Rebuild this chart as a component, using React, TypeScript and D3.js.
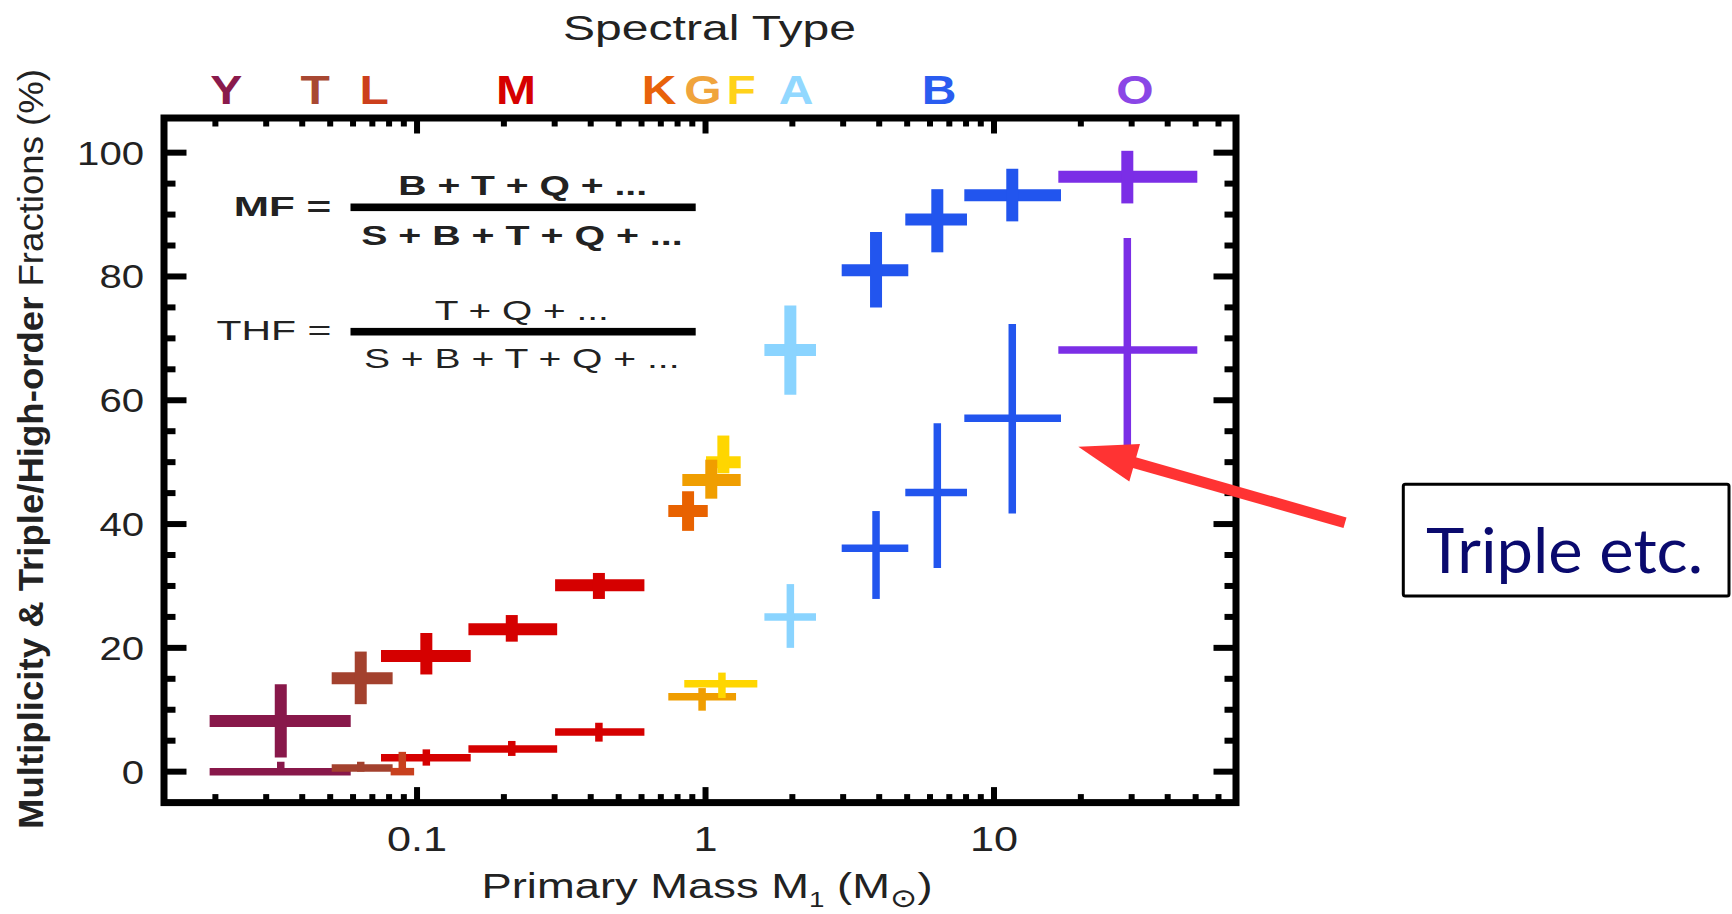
import React from 'react';
import * as d3 from 'd3';

const W = 1732;
const H = 914;

// Spectral type labels along the top
const SPECTRAL_LETTERS = ['Y', 'T', 'L', 'M', 'K', 'G', 'F', 'A', 'B', 'O'];
const SPECTRAL_LETTER_MASS = [0.0218, 0.0443, 0.071, 0.2204, 0.69, 0.98, 1.328, 2.06, 6.45, 30.8];
const LETTER_COLORS: Record<string, string> = {
  Y: '#8a1a4c', T: '#a84832', L: '#cc3f1c', M: '#d60000', K: '#e8620a',
  G: '#f0a43c', F: '#ffd21a', A: '#92d8ff', B: '#2a5cf0', O: '#8a46e6',
};
const POINT_COLORS: Record<string, string> = {
  Y: '#88184a', T: '#a3412e', L: '#c8401e', M: '#d50000', K: '#e86200',
  G: '#f09e00', F: '#ffd600', A: '#8ad4ff', B: '#2255ee', O: '#7b2ee6',
};

// Multiplicity fraction (MF)
const MF_TYPE = ['Y', 'T', 'M', 'M', 'M', 'K', 'F', 'G', 'A', 'B', 'B', 'B', 'O'];
const MF_MASS = [0.0337, 0.0638, 0.1077, 0.213, 0.427, 0.87, 1.153, 1.047, 1.968, 3.9, 6.36, 11.57, 28.98];
const MF_MASS_LO = [0.0191, 0.0506, 0.075, 0.1507, 0.301, 0.743, 1.004, 0.831, 1.6, 2.965, 4.926, 7.89, 16.71];
const MF_MASS_HI = [0.0589, 0.0823, 0.1535, 0.306, 0.614, 1.018, 1.324, 1.324, 2.415, 5.045, 8.06, 17.07, 50.67];
const MF_VALUE = [8.2, 15.1, 18.7, 23.0, 30.1, 42.1, 50.0, 47.1, 68.1, 81.0, 89.2, 93.1, 96.1];
const MF_LO = [2.3, 10.9, 15.7, 21.0, 27.9, 38.9, 48.2, 44.1, 60.9, 75.0, 83.9, 88.9, 91.8];
const MF_HI = [14.1, 19.4, 22.4, 25.3, 32.1, 45.3, 54.3, 50.4, 75.3, 87.2, 94.1, 97.4, 100.3];

// Triple / high-order fraction (THF)
const THF_TYPE = ['Y', 'T', 'M', 'M', 'M', 'L', 'G', 'F', 'A', 'B', 'B', 'B', 'O'];
const THF_MASS = [0.0337, 0.0638, 0.1077, 0.213, 0.427, 0.0889, 0.973, 1.14, 1.968, 3.9, 6.36, 11.57, 28.98];
const THF_MASS_LO = [0.0191, 0.0506, 0.075, 0.1507, 0.301, 0.081, 0.743, 0.844, 1.6, 2.965, 4.926, 7.89, 16.71];
const THF_MASS_HI = [0.0589, 0.0823, 0.1535, 0.306, 0.614, 0.0977, 1.276, 1.512, 2.415, 5.045, 8.06, 17.07, 50.67];
const THF_VALUE = [0, 0.6, 2.26, 3.67, 6.41, 0, 12.1, 14.2, 25.0, 36.1, 45.1, 57.1, 68.1];
const THF_LO = [0, 0, 0.97, 2.54, 4.85, 0, 9.85, 11.9, 20.0, 27.9, 32.9, 41.7, 50.0];
const THF_HI = [1.6, 1.6, 3.6, 4.96, 7.9, 3.2, 13.5, 16.0, 30.3, 42.1, 56.3, 72.3, 86.2];

const Y_TICKS = [0, 20, 40, 60, 80, 100];
const X_TICK_LABELS = ['0.1', '1', '10'];
const X_TICK_VALUES = [0.1, 1, 10];

const TEXT = '#222';
const SANS = '"Liberation Sans", Arial, Helvetica, sans-serif';

function Cross({ m, lo, hi, v, vlo, vhi, color, sw, x, y }: any) {
  return (
    <g stroke={color} strokeLinecap="butt" fill="none">
      <line x1={x(lo)} x2={x(hi)} y1={y(v)} y2={y(v)} strokeWidth={sw} />
      <line x1={x(m)} x2={x(m)} y1={y(vlo)} y2={y(vhi)} strokeWidth={sw} />
    </g>
  );
}

export default function App() {
  const x = d3.scaleLog().domain([0.01327, 69.0]).range([164, 1236]);
  const y = d3.scaleLinear().domain([-5, 105.6]).range([802.6, 118]);
  const [x0, x1] = x.range();
  const [yb, yt] = y.range();
  const fw = 7;
  const half = fw / 2;

  const xTicks = x.ticks().filter((t) => t >= 0.0133 && t <= 69);
  const isMajor = (t: number) => Math.abs(Math.log10(t) - Math.round(Math.log10(t))) < 1e-6;
  const yMinor = d3.range(0, 105, 5);

  // arrow geometry (annotation, pixel space)
  const tip = [1078.3, 446.7];
  const tail = [1345, 522.7];
  const dx = tail[0] - tip[0];
  const dy = tail[1] - tip[1];
  const len = Math.hypot(dx, dy);
  const ux = dx / len, uy = dy / len;
  const nx = -uy, ny = ux;
  const hl = 58.6, hw = 19.5;
  const bx = tip[0] + ux * hl, by = tip[1] + uy * hl;
  const head = [
    [tip[0], tip[1]],
    [bx + nx * hw, by + ny * hw],
    [bx - nx * hw, by - ny * hw],
  ];

  return (
    <svg width={W} height={H} style={{ position: 'absolute', left: 0, top: 0, background: '#fff' }}
      fontFamily={SANS}>
      <rect x={0} y={0} width={W} height={H} fill="#fff" />

      {/* Spectral type title */}
      <text x={563} y={40} fontSize={35} fill={TEXT} textLength={293} lengthAdjust="spacingAndGlyphs">
        Spectral Type
      </text>
      {SPECTRAL_LETTERS.map((s, i) => (
        <text key={s} transform={`translate(${x(SPECTRAL_LETTER_MASS[i])},104) scale(1.2,1)`}
          textAnchor="middle" fontSize={40} fontWeight="bold" fill={LETTER_COLORS[s]}>
          {s}
        </text>
      ))}

      {/* data: MF */}
      {MF_TYPE.map((t, i) => (
        <Cross key={'mf' + i} m={MF_MASS[i]} lo={MF_MASS_LO[i]} hi={MF_MASS_HI[i]}
          v={MF_VALUE[i]} vlo={MF_LO[i]} vhi={MF_HI[i]} color={POINT_COLORS[t]} sw={12} x={x} y={y} />
      ))}
      {/* data: THF */}
      {THF_TYPE.map((t, i) => (
        <Cross key={'thf' + i} m={THF_MASS[i]} lo={THF_MASS_LO[i]} hi={THF_MASS_HI[i]}
          v={THF_VALUE[i]} vlo={THF_LO[i]} vhi={THF_HI[i]} color={POINT_COLORS[t]} sw={7.5} x={x} y={y} />
      ))}

      {/* frame */}
      <rect x={x0} y={yt} width={x1 - x0} height={yb - yt} fill="none" stroke="#000" strokeWidth={fw} />

      {/* y ticks left + right */}
      {yMinor.map((v) => {
        const L = v % 20 === 0 ? 19 : 8;
        return (
          <g key={'yt' + v} stroke="#000" strokeWidth={6}>
            <line x1={x0} x2={x0 + half + L} y1={y(v)} y2={y(v)} />
            <line x1={x1} x2={x1 - half - L} y1={y(v)} y2={y(v)} />
          </g>
        );
      })}
      {/* x ticks bottom + top */}
      {xTicks.map((t) => {
        const L = isMajor(t) ? 12 : 5;
        return (
          <g key={'xt' + t} stroke="#000" strokeWidth={6}>
            <line x1={x(t)} x2={x(t)} y1={yb} y2={yb - half - L} />
            <line x1={x(t)} x2={x(t)} y1={yt} y2={yt + half + L} />
          </g>
        );
      })}

      {/* y tick labels */}
      {Y_TICKS.map((v) => (
        <text key={'yl' + v} transform={`translate(144,${y(v) + 12}) scale(1.18,1)`}
          textAnchor="end" fontSize={34} fill={TEXT}>
          {v}
        </text>
      ))}
      {/* x tick labels */}
      {X_TICK_VALUES.map((v, i) => (
        <text key={'xl' + v} transform={`translate(${x(v)},851) scale(1.2,1)`}
          textAnchor="middle" fontSize={36} fill={TEXT}>
          {X_TICK_LABELS[i]}
        </text>
      ))}

      {/* x axis title */}
      <text transform="translate(481.5,898) scale(1.26,1)" fontSize={36} fill={TEXT}>
        Primary Mass M
        <tspan fontSize={22} dy={9}>1</tspan>
        <tspan dy={-9}> (M</tspan>
        <tspan fontSize={26} dy={9} fontFamily='"DejaVu Sans", sans-serif'>⊙</tspan>
        <tspan dy={-9}>)</tspan>
      </text>

      {/* y axis title */}
      <text transform="translate(43,449) scale(1.2,1) rotate(-90)" textAnchor="middle"
        fontSize={29} fill={TEXT} textLength={760} lengthAdjust="spacingAndGlyphs">
        <tspan fontWeight="bold">Multiplicity &amp; Triple/High-order</tspan>
        <tspan> Fractions (%)</tspan>
      </text>

      {/* formulas */}
      <g fill={TEXT}>
        <text x={233.8} y={216} fontSize={28} fontWeight="bold" textLength={97.5} lengthAdjust="spacingAndGlyphs">MF =</text>
        <text x={398.3} y={195} fontSize={28} fontWeight="bold" textLength={248.8} lengthAdjust="spacingAndGlyphs">B + T + Q + ...</text>
        <text x={361.2} y={245} fontSize={28} fontWeight="bold" textLength={321.5} lengthAdjust="spacingAndGlyphs">S + B + T + Q + ...</text>
        <rect x={350.5} y={207.3 - 3.8} width={345.2} height={7.6} fill="#000" />

        <text x={216.5} y={340} fontSize={28} textLength={114.8} lengthAdjust="spacingAndGlyphs">THF =</text>
        <text x={434.7} y={320} fontSize={28} textLength={174.1} lengthAdjust="spacingAndGlyphs">T + Q + ...</text>
        <text x={363.9} y={368.3} fontSize={28} textLength={315.7} lengthAdjust="spacingAndGlyphs">S + B + T + Q + ...</text>
        <rect x={350.5} y={331.7 - 3.8} width={345.2} height={7.6} fill="#000" />
      </g>

      {/* arrow */}
      <line x1={tail[0]} y1={tail[1]} x2={bx - ux * 4} y2={by - uy * 4} stroke="#ff3333" strokeWidth={11} />
      <polygon points={head.map((p) => p.join(',')).join(' ')} fill="#ff3333" />

      {/* annotation box */}
      <rect x={1403.3} y={484.3} width={325.7} height={111.7} fill="#fff" stroke="#000" strokeWidth={3} rx={2} />
      <text x={1426} y={573} fontSize={62} fill="#0a0a6e" fontFamily='Lato, "Open Sans", sans-serif'
        textLength={277} lengthAdjust="spacingAndGlyphs">
        Triple etc.
      </text>
    </svg>
  );
}
